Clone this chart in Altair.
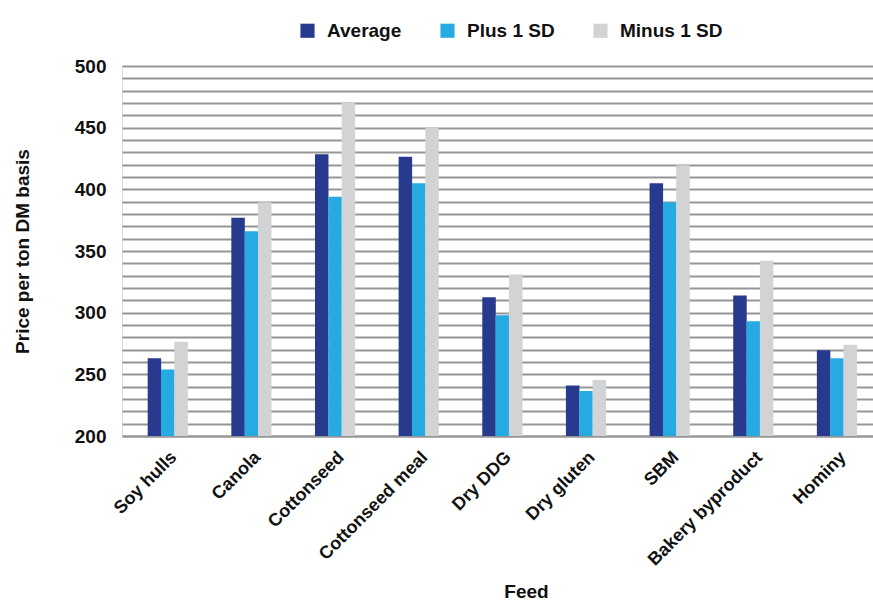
import altair as alt
import pandas as pd

feeds = ["Soy hulls", "Canola", "Cottonseed", "Cottonseed meal", "Dry DDG",
         "Dry gluten", "SBM", "Bakery byproduct", "Hominy"]
average = [263, 377, 428.5, 426.5, 312.5, 241, 405, 314, 269.5]
plus_1sd = [254, 366, 394, 405, 298, 236.5, 389.5, 293, 263]
minus_1sd = [276.5, 389.5, 470, 450, 331, 245.5, 419.5, 342, 274]
series = ["Average", "Plus 1 SD", "Minus 1 SD"]
colors = ["#283a8e", "#27aae1", "#d1d3d4"]
y_ticks = list(range(200, 501, 10))

rows = []
for i, f in enumerate(feeds):
    for s, vals in zip(series, [average, plus_1sd, minus_1sd]):
        rows.append({"Feed": f, "Series": s, "Value": vals[i]})
df = pd.DataFrame(rows)

FONT = "Liberation Sans"

chart = alt.Chart(df).mark_bar(size=13.5, clip=True).encode(
    x=alt.X("Feed:N", sort=feeds,
            scale=alt.Scale(paddingInner=0.522, paddingOuter=0.25, align=0.616),
            axis=alt.Axis(title="Feed", labelAngle=-45, labelAlign="right",
                          labelBaseline="top", labelPadding=12, ticks=False,
                          domainColor="#969696", domainWidth=1.8,
                          labelFont=FONT, labelFontSize=18, labelFontWeight="bold",
                          labelColor="#111111",
                          titleFont=FONT, titleFontSize=19, titleFontWeight="bold",
                          titleColor="#111111", titleX=404, titleY=146,
                          titleAlign="center", titleBaseline="top")),
    xOffset=alt.XOffset("Series:N", sort=series, scale=alt.Scale(paddingInner=0)),
    y=alt.Y("Value:Q", scale=alt.Scale(domain=[200, 500], nice=False, zero=False),
            axis=alt.Axis(title="Price per ton DM basis", values=y_ticks,
                          labelExpr="datum.value % 50 == 0 ? datum.label : ''",
                          grid=True, gridColor="#969696", gridWidth=1.8,
                          domain=False, ticks=False, labelPadding=16,
                          labelFont=FONT, labelFontSize=19, labelFontWeight="bold",
                          labelColor="#111111",
                          titleFont=FONT, titleFontSize=19, titleFontWeight="bold",
                          titleColor="#111111", titlePadding=42)),
    color=alt.Color("Series:N", sort=series,
                    scale=alt.Scale(domain=series, range=colors),
                    legend=alt.Legend(title=None, orient="none", direction="horizontal",
                                      legendX=176, legendY=-45,
                                      symbolType="square", symbolSize=200,
                                      symbolStrokeWidth=0, symbolOpacity=1,
                                      labelFont=FONT, labelFontSize=19,
                                      labelFontWeight="bold", labelColor="#111111",
                                      columnPadding=36, labelOffset=10)),
).properties(
    width=751, height=370,
    autosize=alt.AutoSizeParams(type="none"),
    padding={"left": 122, "top": 66, "right": 0, "bottom": 164},
).configure_view(stroke=None).configure(background="white")

chart.save("out.html", embed_options={"renderer": "svg", "actions": False})
